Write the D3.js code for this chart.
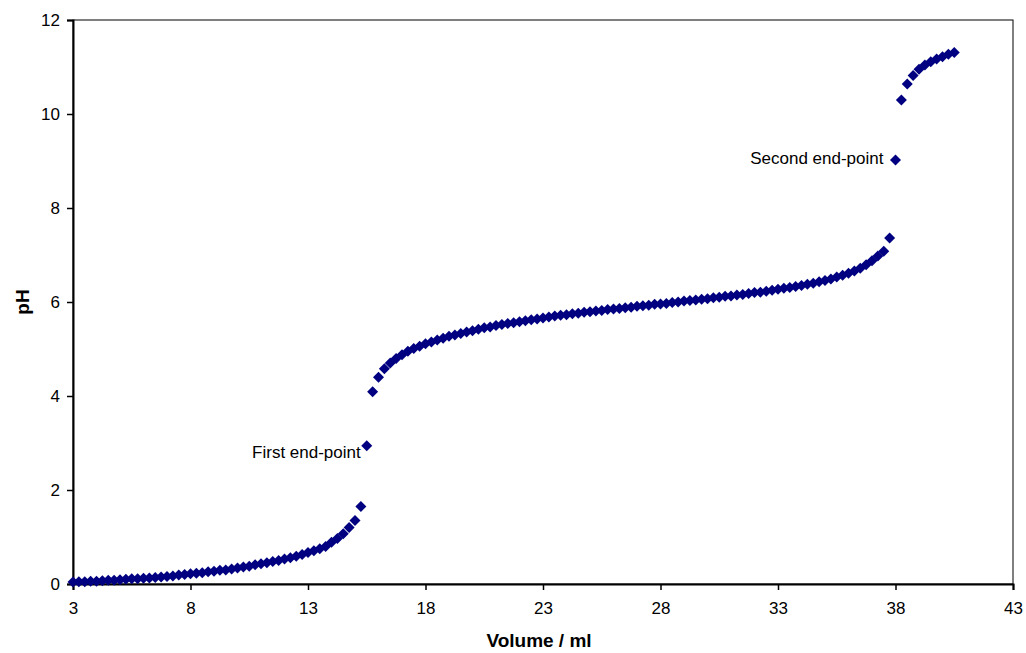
<!DOCTYPE html>
<html>
<head>
<meta charset="utf-8">
<script src="https://cdn.jsdelivr.net/npm/d3@7"></script>
<style>
  html, body { margin: 0; padding: 0; background: #fff; }
  svg { display: block; font-family: "Liberation Sans", Arial, sans-serif; }
</style>
</head>
<body>
<svg id="chart" width="1026" height="653"></svg>
<script>
// Volume (ml) readings, 0.25 ml steps from 3 to 40.5
const volumeStart = 3, volumeStep = 0.25;
const phValues = [
  0.04, 0.05, 0.05, 0.06, 0.06, 0.07, 0.08, 0.08, 0.09, 0.10, 0.11, 0.11,
  0.12, 0.13, 0.14, 0.15, 0.16, 0.17, 0.19, 0.20, 0.22, 0.23, 0.24, 0.26,
  0.27, 0.29, 0.30, 0.32, 0.34, 0.36, 0.38, 0.41, 0.43, 0.45, 0.48, 0.50,
  0.53, 0.56, 0.59, 0.63, 0.67, 0.71, 0.75, 0.80, 0.89, 0.97, 1.07, 1.20,
  1.35, 1.65, 2.94, 4.09, 4.40, 4.58, 4.70, 4.80, 4.88, 4.95, 5.01, 5.06,
  5.11, 5.15, 5.19, 5.23, 5.27, 5.30, 5.33, 5.36, 5.39, 5.42, 5.45, 5.47,
  5.50, 5.52, 5.54, 5.56, 5.58, 5.60, 5.62, 5.64, 5.66, 5.68, 5.70, 5.72,
  5.73, 5.75, 5.76, 5.78, 5.79, 5.81, 5.82, 5.84, 5.85, 5.86, 5.88, 5.89,
  5.91, 5.92, 5.93, 5.95, 5.96, 5.97, 5.99, 6.00, 6.02, 6.03, 6.04, 6.06,
  6.07, 6.09, 6.10, 6.12, 6.13, 6.15, 6.16, 6.18, 6.20, 6.21, 6.23, 6.25,
  6.27, 6.29, 6.31, 6.33, 6.35, 6.38, 6.40, 6.43, 6.46, 6.49, 6.53, 6.57,
  6.61, 6.66, 6.72, 6.79, 6.88, 6.98, 7.08, 7.36, 9.02, 10.30, 10.64, 10.82,
  10.95, 11.04, 11.11, 11.17, 11.22, 11.27, 11.31
];
const volumes = phValues.map((_, i) => volumeStart + i * volumeStep);
const xTicks = [3, 8, 13, 18, 23, 28, 33, 38, 43];
const yTicks = [0, 2, 4, 6, 8, 10, 12];
const annotationTexts = ["First end-point", "Second end-point"];
const annotationVolumes = [15.5, 38.0];
const annotationPH = [2.94, 9.02];

// layout only
const labelShift = [[-6, 12], [-12, 4]];

const svg = d3.select("#chart");
const m = { left: 73, right: 13, top: 20, bottom: 69 };
const W = 1026, H = 653;
const x = d3.scaleLinear().domain([3, 43]).range([m.left, W - m.right]);
const y = d3.scaleLinear().domain([0, 12]).range([H - m.bottom, m.top]);

// frame
svg.append("rect")
  .attr("x", x(3)).attr("y", y(12))
  .attr("width", x(43) - x(3)).attr("height", y(0) - y(12))
  .attr("fill", "none").attr("stroke", "#000").attr("stroke-width", 1);

const xAxis = svg.append("g")
  .attr("transform", `translate(0,${y(0)})`)
  .call(d3.axisBottom(x).tickValues(xTicks).tickSize(6).tickPadding(12).tickFormat(d3.format("d")));
const yAxis = svg.append("g")
  .attr("transform", `translate(${x(3)},0)`)
  .call(d3.axisLeft(y).tickValues(yTicks).tickSize(6).tickPadding(7).tickFormat(d3.format("d")));

[xAxis, yAxis].forEach(g => {
  g.select(".domain").attr("stroke", "#000").attr("stroke-width", 2);
  g.selectAll(".tick line").attr("stroke", "#000").attr("stroke-width", 1.5);
  g.selectAll(".tick text").attr("fill", "#000").style("font-size", "17px")
    .style("font-family", "'Liberation Sans', Arial, sans-serif");
});

// axis titles
svg.append("text")
  .attr("x", (x(3) + x(43)) / 2 - 4).attr("y", 647)
  .attr("text-anchor", "middle")
  .style("font-size", "19px").style("font-weight", "bold")
  .text("Volume / ml");
svg.append("text")
  .attr("transform", `translate(29,${(y(0) + y(12)) / 2}) rotate(-90)`)
  .attr("text-anchor", "middle")
  .style("font-size", "19px").style("font-weight", "bold")
  .text("pH");

// points
const r = 5.5;
const diamond = `M0,${-r}L${r},0L0,${r}L${-r},0Z`;
svg.append("g").selectAll("path")
  .data(volumes.map((v, i) => [v, phValues[i]]))
  .join("path")
  .attr("d", diamond)
  .attr("transform", d => `translate(${x(d[0])},${y(d[1])})`)
  .attr("fill", "#000080");

// annotations
svg.append("g").selectAll("text")
  .data(annotationTexts.map((t, i) => ({ t, v: annotationVolumes[i], ph: annotationPH[i], s: labelShift[i] })))
  .join("text")
  .attr("x", d => x(d.v) + d.s[0])
  .attr("y", d => y(d.ph) + d.s[1])
  .attr("text-anchor", "end")
  .style("font-size", "17px")
  .attr("fill", "#000")
  .text(d => d.t);
</script>
</body>
</html>
